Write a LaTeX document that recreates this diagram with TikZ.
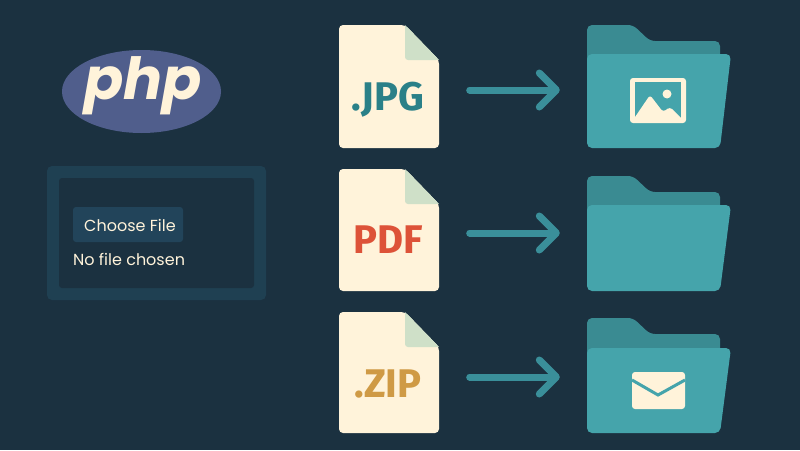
\documentclass[tikz,border=0pt]{standalone}
\usepackage{fontspec}
\setmainfont{Poppins}
\newfontfamily\extfont{Fira Sans}
\usetikzlibrary{arrows.meta,positioning}
\definecolor{bgcol}{HTML}{1B3140}
\definecolor{papercol}{HTML}{FFF3DA}
\definecolor{foldcol}{HTML}{CFE0C8}
\definecolor{frontcol}{HTML}{45A4AB}
\definecolor{backcol}{HTML}{3A8B92}
\definecolor{flowcol}{HTML}{3A8F9A}
\definecolor{jpgcol}{HTML}{2A8088}
\definecolor{pdfcol}{HTML}{DD5238}
\definecolor{zipcol}{HTML}{CF9A45}
\definecolor{logocol}{HTML}{505E8C}
\definecolor{panelcol}{HTML}{1F4052}
\definecolor{buttoncol}{HTML}{22445A}
\tikzset{
    every node/.style={font=\normalsize},
    ext label/.style={anchor=base,inner sep=0pt,font=\extfont\fontsize{40}{40}\selectfont\bfseries},
    ui label/.style={anchor=base west,inner sep=0pt,text=papercol,font=\fontsize{16}{20}\selectfont},
    port/.style={inner sep=0pt,minimum height=1pt},
    flow/.style={draw=flowcol,line width=7pt,line cap=round,shorten <=30.5pt,shorten >=27pt,
      -{Straight Barb[round,length=17pt,width=34pt]}}
}
\newcommand{\drawdoc}[2]{
  \fill[papercol,rounded corners=4pt] (339,#1) -- (405,#1) -- (439,#1+35) -- (439,#2) -- (339,#2) -- cycle;
  \fill[foldcol,rounded corners=3pt] (405,#1) -- (405,#1+35) -- (439,#1+35) -- cycle;
  \fill[foldcol] (405,#1) -- (405,#1+30) -- (439,#1+35) -- cycle;
}
\newcommand{\drawfolder}[3]{
  \fill[backcol,rounded corners=5pt] (587,#1) -- (633,#1) -- (650,#1+16) -- (720,#1+16) -- (720,#2+15) -- (587,#2+15) -- cycle;
  \fill[frontcol,rounded corners=5pt] (587,#2) -- (731,#2) -- (720,#3) -- (587,#3) -- cycle;
}
\begin{document}
\begin{tikzpicture}[x=1pt,y=-1pt]
  \fill[bgcol] (0,0) rectangle (800,450);

  \fill[logocol] (141.5,91.5) ellipse [x radius=79.5,y radius=41.5];
  \node[inner sep=0pt,text=papercol,font=\fontsize{58}{58}\selectfont\bfseries\itshape] (logo) at (143,86) {php};

  \fill[panelcol,rounded corners=5pt] (47,166) rectangle (266,300);
  \fill[bgcol,rounded corners=3pt] (59,178) rectangle (254,288);
  \node[fill=buttoncol,rounded corners=3pt,minimum width=110pt,minimum height=35pt,inner sep=0pt] (button) at (128,224.5) {};
  \node[ui label] (choose) at (84,231) {Choose File};
  \node[ui label] (nofile) at (73,265) {No file chosen};

  \foreach \name/\ext/\col/\top/\bot/\ftop/\ffront/\y/\base in {
      jpg/.JPG/jpgcol/25/148/25/54/90/110,
      pdf/PDF/pdfcol/169/291/176/205/233/253,
      zip/.ZIP/zipcol/312/433/318/348/377/397} {
    \drawdoc{\top}{\bot}
    \drawfolder{\ftop}{\ffront}{\bot}
    \node[ext label,text=\col] (\name label) at (388,\base) {\ext};
    \node[port,minimum width=100pt] (\name doc) at (389,\y) {};
    \node[port,minimum width=144pt] (\name folder) at (659,\y) {};
    \draw[flow] (\name doc) -- (\name folder);
  }

  \fill[papercol,rounded corners=3pt] (630,78) rectangle (686,123);
  \fill[frontcol] (635,82) rectangle (681,118);
  \fill[papercol,rounded corners=3pt] (633,120) -- (650,95) -- (663,112) -- (670,107) -- (683,120) -- cycle;
  \fill[papercol] (667,94) circle [radius=4.5];

  \fill[papercol,rounded corners=3pt] (632,372) rectangle (685,409);
  \draw[frontcol,line width=3pt] (632,380) -- (658,395) -- (685,380);
\end{tikzpicture}
\end{document}
